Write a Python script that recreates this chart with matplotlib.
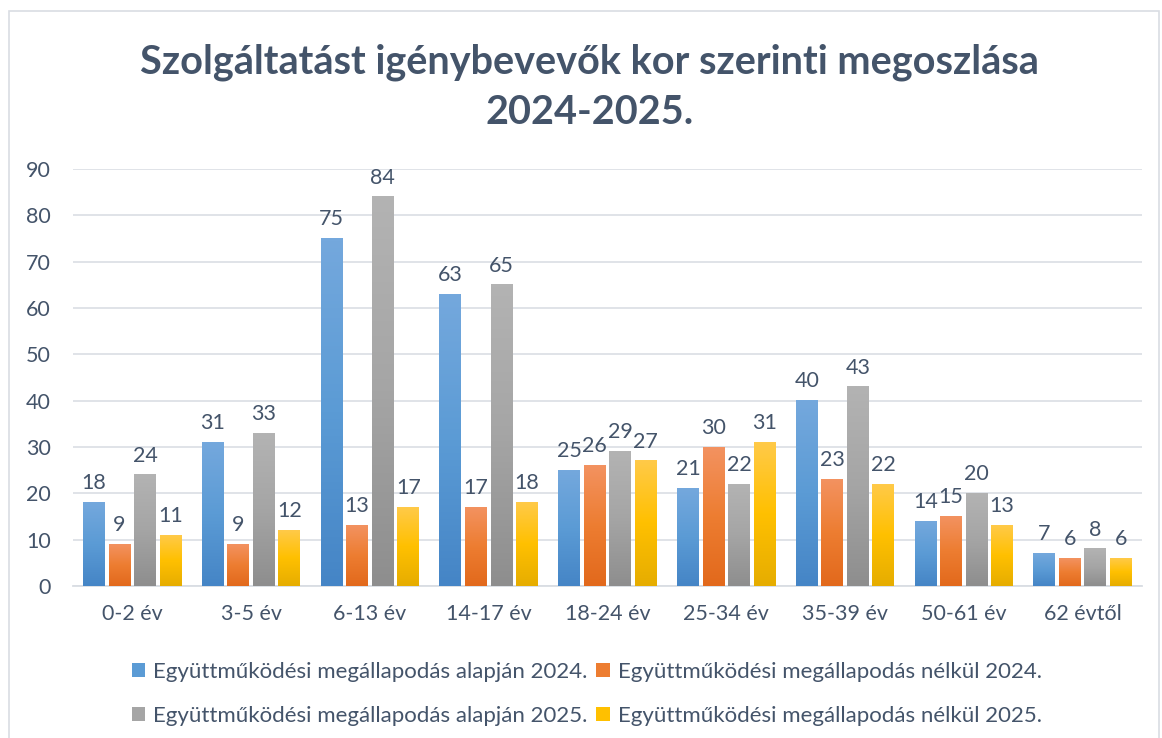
import numpy as np
import matplotlib.pyplot as plt
from matplotlib.colors import LinearSegmentedColormap
from matplotlib.patches import Patch, Rectangle

plt.rcParams['font.family'] = ['Lato', 'DejaVu Sans']

categories = ['0-2 év', '3-5 év', '6-13 év', '14-17 év', '18-24 év',
              '25-34 év', '35-39 év', '50-61 év', '62 évtől']
series_names = ['Együttműködési megállapodás alapján 2024.',
                'Együttműködési megállapodás nélkül 2024.',
                'Együttműködési megállapodás alapján 2025.',
                'Együttműködési megállapodás nélkül 2025.']
alapjan_2024 = [18, 31, 75, 63, 25, 21, 40, 14, 7]
nelkul_2024 = [9, 9, 13, 17, 26, 30, 23, 15, 6]
alapjan_2025 = [24, 33, 84, 65, 29, 22, 43, 20, 8]
nelkul_2025 = [11, 12, 17, 18, 27, 31, 22, 13, 6]
values = [alapjan_2024, nelkul_2024, alapjan_2025, nelkul_2025]

# top, middle, bottom shades for the gradient fill
shades = [('#74A8DD', '#5B9BD5', '#4585C6'),
          ('#F39260', '#ED7D31', '#E2691C'),
          ('#B3B3B3', '#A5A5A5', '#8E8E8E'),
          ('#FFCA48', '#FFC000', '#E6AD00')]
text_color = '#44546A'

fig = plt.figure(figsize=(11.62, 7.38), dpi=100)
fig.patches.append(Rectangle((9 / 1162, -0.01), 1150 / 1162, 1 - 11 / 738 + 0.01,
                             transform=fig.transFigure, fill=False,
                             edgecolor='#D9DDE3', linewidth=1.2))
ax = fig.add_axes([73 / 1162, 1 - 586 / 738, (1142 - 73) / 1162, (586 - 169) / 738])

x = np.arange(len(categories))
width = 0.185
step = 0.215
grad = np.linspace(0, 1, 100).reshape(-1, 1)

for i, vals in enumerate(values):
    cmap = LinearSegmentedColormap.from_list('g%d' % i, [shades[i][2], shades[i][1], shades[i][0]])
    offs = x + (i - 1.5) * step
    for xc, v in zip(offs, vals):
        ax.imshow(grad, cmap=cmap, origin='lower', aspect='auto',
                  extent=[xc - width / 2, xc + width / 2, 0, v], zorder=3)
        ax.text(xc, v + 2.0, str(v), ha='center', va='bottom',
                fontsize=15.5, color=text_color)

ax.set_xlim(-0.5, len(categories) - 0.5)
ax.set_ylim(0, 90)
ax.set_yticks(range(0, 91, 10))
ax.set_xticks(x)
ax.set_xticklabels(categories)
ax.tick_params(axis='both', length=0, labelsize=15.5, colors=text_color)
ax.tick_params(axis='x', pad=13)
ax.tick_params(axis='y', pad=16)
ax.grid(axis='y', color='#DDE1E6', linewidth=1.3, zorder=0)
ax.set_axisbelow(True)
for s in ['top', 'right', 'left']:
    ax.spines[s].set_visible(False)
ax.spines['bottom'].set_color('#D9DDE3')
ax.spines['bottom'].set_linewidth(1.3)

fig.text(0.507, 1 - 62 / 738, 'Szolgáltatást igénybevevők kor szerinti megoszlása',
         ha='center', va='center', fontsize=28.5, fontweight='bold', color=text_color)
fig.text(0.507, 1 - 113 / 738, '2024-2025.',
         ha='center', va='center', fontsize=28.5, fontweight='bold', color=text_color)

handles = [Patch(facecolor=shades[i][1], label=series_names[i]) for i in range(4)]
order = [0, 2, 1, 3]
fig.legend([handles[k] for k in order], [series_names[k] for k in order],
           ncol=2, loc='center', bbox_to_anchor=(0.505, 1 - 694 / 738),
           frameon=False, fontsize=16, labelcolor=text_color,
           handlelength=0.6, handleheight=0.6, handletextpad=0.35,
           columnspacing=0.4, labelspacing=1.1)

fig.savefig('out.png', dpi=100)
